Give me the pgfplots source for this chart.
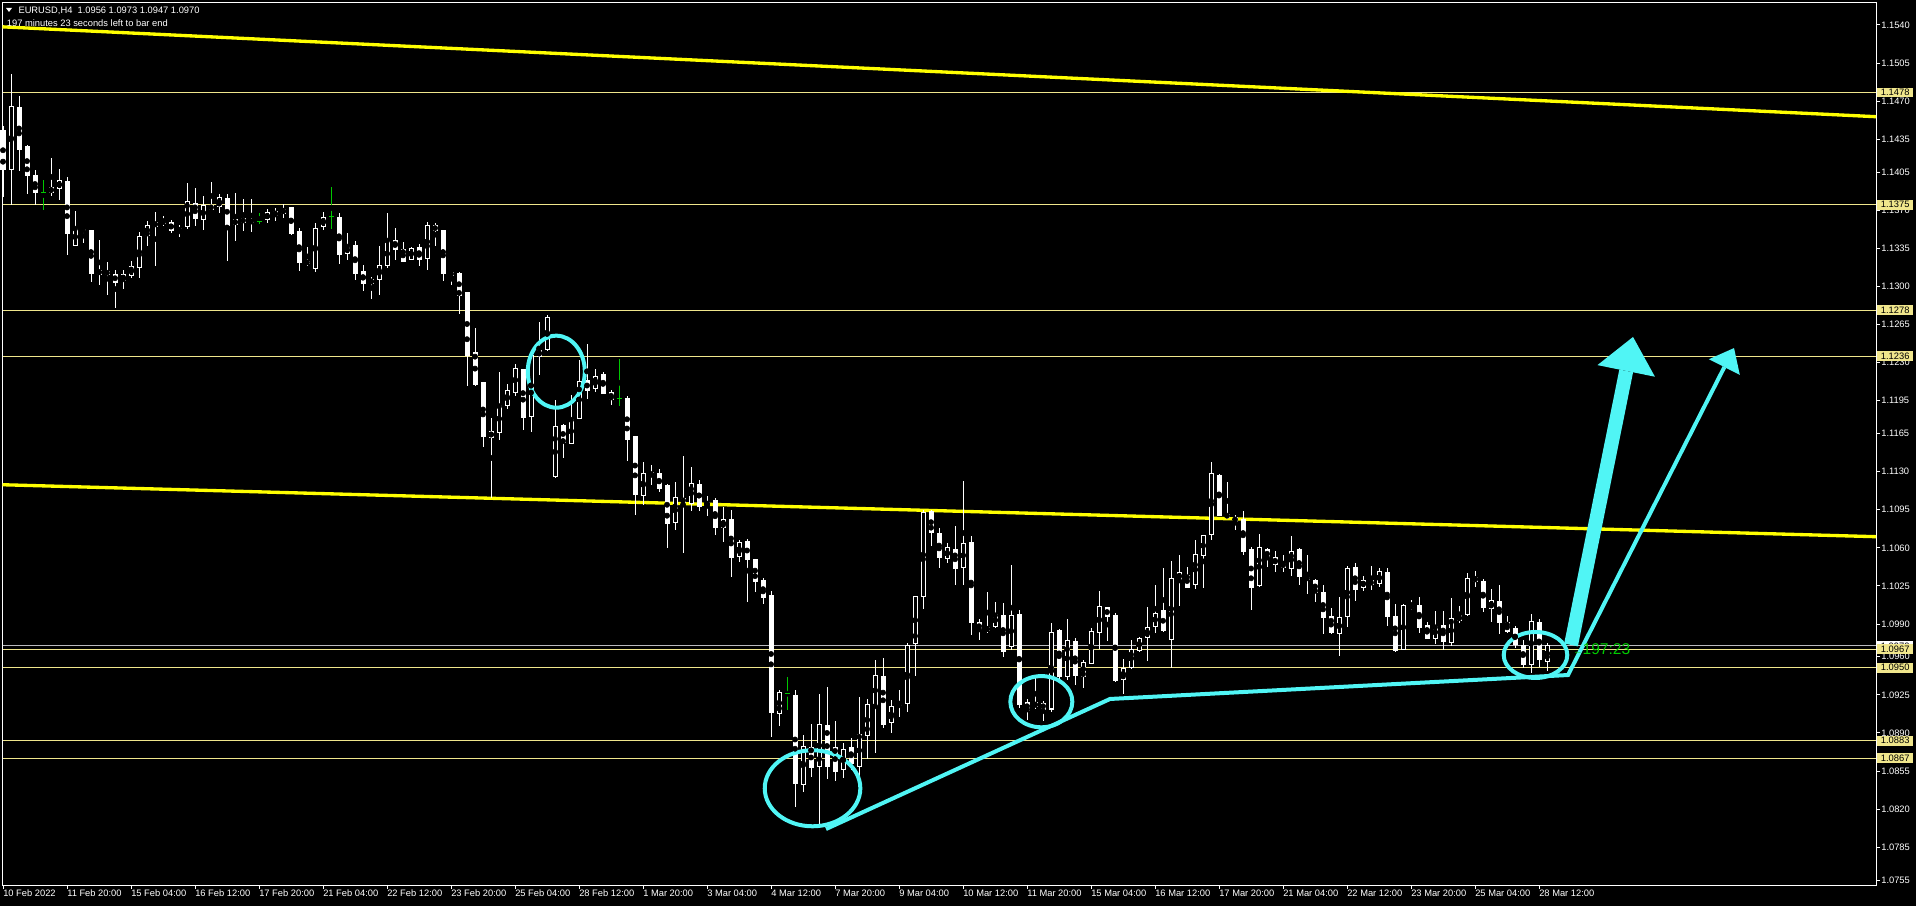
\documentclass[border=0pt]{standalone}
\usepackage{pgfplots}
\pgfplotsset{compat=1.18}
\usepackage{pgfplotstable}
\usepackage{fontspec}
\setmainfont{Liberation Sans}
\usetikzlibrary{arrows.meta}

\definecolor{hline}{RGB}{240,230,140}
\definecolor{tline}{RGB}{255,255,0}
\definecolor{aqua}{RGB}{80,245,245}
\definecolor{doji}{RGB}{0,200,0}
\definecolor{bidgrey}{RGB}{185,185,190}
\definecolor{timer}{RGB}{0,205,0}

% EURUSD H4, bar number counted from the left edge of the chart
\pgfplotstableread{
i o h l c
0 1.1443 1.1447 1.1382 1.1407
1 1.1407 1.1495 1.1375 1.1465
2 1.1464 1.1475 1.1406 1.1426
3 1.1428 1.1430 1.1385 1.1402
4 1.1402 1.1407 1.1375 1.1386
6 1.1386 1.1418 1.1383 1.1391
7 1.1390 1.1408 1.1379 1.1397
8 1.1396 1.1400 1.1329 1.1349
9 1.1338 1.1369 1.1337 1.1353
10 1.1352 1.1353 1.1340 1.1351
11 1.1351 1.1352 1.1304 1.1312
12 1.1311 1.1343 1.1301 1.1315
13 1.1314 1.1322 1.1292 1.1311
14 1.1311 1.1315 1.1280 1.1304
15 1.1305 1.1315 1.1298 1.1311
16 1.1310 1.1323 1.1308 1.1318
17 1.1317 1.1350 1.1308 1.1346
18 1.1347 1.1360 1.1337 1.1356
19 1.1355 1.1368 1.1319 1.1359
20 1.1360 1.1365 1.1355 1.1358
21 1.1359 1.1361 1.1349 1.1351
22 1.1351 1.1356 1.1345 1.1353
23 1.1355 1.1395 1.1353 1.1378
24 1.1376 1.1390 1.1355 1.1362
25 1.1361 1.1383 1.1352 1.1374
26 1.1374 1.1396 1.1370 1.1371
27 1.1373 1.1385 1.1367 1.1382
28 1.1381 1.1385 1.1323 1.1356
29 1.1357 1.1386 1.1342 1.1361
30 1.1362 1.1380 1.1351 1.1359
31 1.1360 1.1380 1.1350 1.1359
33 1.1361 1.1371 1.1358 1.1368
34 1.1369 1.1372 1.1360 1.1365
35 1.1367 1.1376 1.1363 1.1371
36 1.1372 1.1373 1.1347 1.1349
37 1.1350 1.1354 1.1314 1.1322
38 1.1323 1.1336 1.1319 1.1321
39 1.1316 1.1358 1.1313 1.1353
40 1.1355 1.1368 1.1352 1.1363
42 1.1363 1.1367 1.1321 1.1329
43 1.1330 1.1349 1.1324 1.1337
44 1.1338 1.1342 1.1306 1.1312
45 1.1314 1.1320 1.1296 1.1303
46 1.1303 1.1309 1.1288 1.1306
47 1.1306 1.1337 1.1292 1.1319
48 1.1319 1.1367 1.1317 1.1341
49 1.1342 1.1354 1.1324 1.1334
50 1.1334 1.1341 1.1322 1.1323
51 1.1325 1.1336 1.1324 1.1335
52 1.1336 1.1339 1.1319 1.1325
53 1.1326 1.1359 1.1315 1.1356
54 1.1356 1.1358 1.1337 1.1351
55 1.1351 1.1352 1.1305 1.1312
56 1.1313 1.1313 1.1301 1.1310
57 1.1312 1.1313 1.1275 1.1292
58 1.1294 1.1294 1.1209 1.1237
59 1.1239 1.1262 1.1209 1.1210
60 1.1212 1.1212 1.1153 1.1162
61 1.1161 1.1179 1.1106 1.1167
62 1.1166 1.1221 1.1159 1.1191
63 1.1191 1.1210 1.1187 1.1204
64 1.1203 1.1229 1.1199 1.1225
65 1.1224 1.1224 1.1168 1.1180
66 1.1181 1.1239 1.1166 1.1237
67 1.1236 1.1267 1.1219 1.1241
68 1.1242 1.1274 1.1241 1.1271
69 1.1125 1.1196 1.1124 1.1171
70 1.1172 1.1174 1.1142 1.1157
71 1.1156 1.1200 1.1155 1.1178
72 1.1179 1.1232 1.1179 1.1213
73 1.1214 1.1247 1.1197 1.1204
74 1.1206 1.1224 1.1203 1.1217
75 1.1219 1.1221 1.1202 1.1202
76 1.1203 1.1205 1.1191 1.1196
78 1.1197 1.1199 1.1140 1.1159
79 1.1162 1.1163 1.1090 1.1109
80 1.1108 1.1139 1.1099 1.1128
81 1.1126 1.1136 1.1118 1.1129
82 1.1128 1.1132 1.1111 1.1114
83 1.1117 1.1119 1.1060 1.1082
84 1.1083 1.1120 1.1076 1.1106
85 1.1105 1.1144 1.1055 1.1102
86 1.1101 1.1134 1.1094 1.1119
87 1.1118 1.1122 1.1094 1.1098
88 1.1099 1.1108 1.1089 1.1102
89 1.1103 1.1106 1.1072 1.1079
90 1.1079 1.1097 1.1065 1.1086
91 1.1086 1.1095 1.1033 1.1051
92 1.1052 1.1067 1.1047 1.1065
93 1.1066 1.1068 1.1010 1.1049
94 1.1049 1.1049 1.1019 1.1029
95 1.1030 1.1032 1.1008 1.1014
96 1.1016 1.1020 1.0886 1.0909
97 1.0908 1.0929 1.0896 1.0927
99 1.0924 1.0929 1.0822 1.0844
100 1.0843 1.0888 1.0836 1.0878
101 1.0877 1.0898 1.0850 1.0858
102 1.0859 1.0926 1.0806 1.0898
103 1.0897 1.0932 1.0848 1.0859
104 1.0877 1.0901 1.0846 1.0855
105 1.0856 1.0881 1.0849 1.0875
106 1.0877 1.0885 1.0856 1.0862
107 1.0859 1.0923 1.0850 1.0889
108 1.0888 1.0921 1.0866 1.0916
109 1.0915 1.0957 1.0872 1.0943
110 1.0942 1.0959 1.0895 1.0898
111 1.0900 1.0920 1.0890 1.0914
112 1.0916 1.0929 1.0905 1.0915
113 1.0917 1.0973 1.0909 1.0970
114 1.0972 1.1016 1.0942 1.1015
115 1.1015 1.1095 1.1004 1.1092
116 1.1093 1.1095 1.1062 1.1074
117 1.1073 1.1078 1.1041 1.1051
118 1.1050 1.1064 1.1046 1.1060
119 1.1058 1.1080 1.1026 1.1041
120 1.1042 1.1121 1.1026 1.1064
121 1.1065 1.1071 1.0980 1.0991
122 1.0991 1.0995 1.0975 1.0985
123 1.0984 1.1019 1.0982 1.0987
124 1.0988 1.1010 1.0986 1.0999
125 1.0998 1.1009 1.0960 1.0965
126 1.0969 1.1044 1.0966 1.0998
127 1.0999 1.1003 1.0913 1.0916
128 1.0918 1.0921 1.0902 1.0911
129 1.0914 1.0940 1.0912 1.0918
130 1.0917 1.0919 1.0901 1.0912
131 1.0912 1.0991 1.0909 1.0982
132 1.0984 1.0985 1.0936 1.0942
133 1.0942 1.0995 1.0939 1.0975
134 1.0974 1.0977 1.0934 1.0943
135 1.0942 1.0957 1.0931 1.0955
136 1.0954 1.0986 1.0953 1.0983
137 1.0982 1.1020 1.0967 1.1006
138 1.1005 1.1005 1.0974 1.0997
139 1.0998 1.1000 1.0937 1.0938
140 1.0939 1.0958 1.0926 1.0949
141 1.0950 1.0975 1.0949 1.0967
142 1.0966 1.0978 1.0964 1.0977
143 1.0978 1.1006 1.0956 1.0987
144 1.0988 1.1026 1.0982 1.1000
145 1.1002 1.1041 1.0983 1.0984
146 1.0976 1.1048 1.0950 1.1032
147 1.1031 1.1053 1.1007 1.1037
148 1.1035 1.1042 1.1024 1.1024
149 1.1026 1.1067 1.1022 1.1054
150 1.1053 1.1072 1.1023 1.1071
151 1.1072 1.1139 1.1067 1.1128
152 1.1126 1.1128 1.1090 1.1090
153 1.1091 1.1120 1.1086 1.1088
154 1.1088 1.1090 1.1076 1.1084
155 1.1086 1.1094 1.1053 1.1057
156 1.1058 1.1061 1.1003 1.1024
157 1.1025 1.1073 1.1024 1.1060
158 1.1058 1.1060 1.1042 1.1051
159 1.1051 1.1057 1.1038 1.1045
160 1.1046 1.1053 1.1038 1.1042
161 1.1041 1.1071 1.1034 1.1057
162 1.1058 1.1060 1.1026 1.1034
163 1.1033 1.1053 1.1018 1.1031
164 1.1030 1.1031 1.1010 1.1019
165 1.1019 1.1026 1.0981 1.0996
166 1.0997 1.1005 1.0981 1.0982
167 1.0981 1.1015 1.0961 1.0996
168 1.0997 1.1043 1.0987 1.1041
169 1.1042 1.1046 1.1011 1.1022
170 1.1024 1.1034 1.1020 1.1030
171 1.1030 1.1043 1.1021 1.1026
172 1.1027 1.1041 1.1024 1.1038
173 1.1037 1.1041 1.0988 1.0997
174 1.0997 1.1008 1.0964 1.0966
175 1.0967 1.1008 1.0966 1.1007
176 1.1005 1.1012 1.1003 1.1007
177 1.1007 1.1015 1.0982 1.0987
178 1.0989 1.0992 1.0977 1.0977
179 1.0977 1.1002 1.0972 1.0988
180 1.0989 1.1002 1.0966 1.0974
181 1.0973 1.1014 1.0970 1.0995
182 1.0993 1.1007 1.0991 1.0998
183 1.0999 1.1037 1.0997 1.1032
184 1.1033 1.1039 1.1024 1.1029
185 1.1029 1.1031 1.1001 1.1005
186 1.1004 1.1022 1.0992 1.1012
187 1.1011 1.1026 1.0981 1.0991
188 1.0991 1.0997 1.0982 1.0983
189 1.0986 1.0988 1.0968 1.0971
190 1.0970 1.0975 1.0950 1.0953
191 1.0953 1.0999 1.0945 1.0992
192 1.0991 1.0995 1.0951 1.0957
193 1.0956 1.0973 1.0947 1.0970
}\candles

% bars with open = close, drawn green by the terminal
\pgfplotstableread{
i p h l
5 1.1386 1.1398 1.1370
32 1.1360 1.1367 1.1357
41 1.1364 1.1391 1.1353
77 1.1197 1.1233 1.1190
98 1.0926 1.0941 1.0911
}\dojis

\begin{document}
\begin{tikzpicture}
\fill[black] (0,0) rectangle (1437pt,679.5pt);
\useasboundingbox (0,0) rectangle (1437pt,679.5pt);
\begin{axis}[
  at={(1.875pt,15.75pt)}, anchor=south west,
  scale only axis, width=1405.125pt, height=662.025pt,
  xmin=-0.0625, xmax=234.125, ymin=1.075041, ymax=1.156084,
  clip=false,
  axis line style={white, line width=0.75pt},
  tick style={white, line width=0.75pt},
  major tick length=3pt, tick align=outside,
  xtick pos=bottom, ytick pos=right, yticklabel pos=right,
  xtick={0,8,...,192},
  xticklabels={10 Feb 2022, 11 Feb 20:00, 15 Feb 04:00, 16 Feb 12:00, 17 Feb 20:00,
    21 Feb 04:00, 22 Feb 12:00, 23 Feb 20:00, 25 Feb 04:00, 28 Feb 12:00, 1 Mar 20:00,
    3 Mar 04:00, 4 Mar 12:00, 7 Mar 20:00, 9 Mar 04:00, 10 Mar 12:00, 11 Mar 20:00,
    15 Mar 04:00, 16 Mar 12:00, 17 Mar 20:00, 21 Mar 04:00, 22 Mar 12:00, 23 Mar 20:00,
    25 Mar 04:00, 28 Mar 12:00},
  ytick={1.0755,1.0785,1.0820,1.0855,1.0890,1.0925,1.0960,1.0990,1.1025,1.1060,1.1095,1.1130,
    1.1165,1.1195,1.1230,1.1265,1.1300,1.1335,1.1370,1.1405,1.1435,1.1470,1.1505,1.1540},
  yticklabels={1.0755,1.0785,1.0820,1.0855,1.0890,1.0925,1.0960,1.0990,1.1025,1.1060,1.1095,1.1130,
    1.1165,1.1195,1.1230,1.1265,1.1300,1.1335,1.1370,1.1405,1.1435,1.1470,1.1505,1.1540},
  tick label style={font=\fontsize{7}{8}\selectfont, text=white, inner sep=0pt},
  xticklabel style={anchor=north west, yshift=-0.4pt},
  yticklabel style={anchor=west, xshift=0.75pt},
]
% price levels
\addplot[hline, line width=0.75pt] coordinates {(-0.0625,1.1478) (234.125,1.1478)} node[coordinate, pos=1] (h1478) {};
\addplot[hline, line width=0.75pt] coordinates {(-0.0625,1.1375) (234.125,1.1375)} node[coordinate, pos=1] (h1375) {};
\addplot[hline, line width=0.75pt] coordinates {(-0.0625,1.1278) (234.125,1.1278)} node[coordinate, pos=1] (h1278) {};
\addplot[hline, line width=0.75pt] coordinates {(-0.0625,1.1236) (234.125,1.1236)} node[coordinate, pos=1] (h1236) {};
\addplot[bidgrey, line width=0.75pt] coordinates {(-0.0625,1.0970) (234.125,1.0970)} node[coordinate, pos=1] (h0970) {};
\addplot[hline, line width=0.75pt] coordinates {(-0.0625,1.0967) (234.125,1.0967)} node[coordinate, pos=1] (h0967) {};
\addplot[hline, line width=0.75pt] coordinates {(-0.0625,1.0950) (234.125,1.0950)} node[coordinate, pos=1] (h0950) {};
\addplot[hline, line width=0.75pt] coordinates {(-0.0625,1.0883) (234.125,1.0883)} node[coordinate, pos=1] (h0883) {};
\addplot[hline, line width=0.75pt] coordinates {(-0.0625,1.0867) (234.125,1.0867)} node[coordinate, pos=1] (h0867) {};
% channel lines
\addplot[tline, line width=2.5pt] coordinates {(-0.0625,1.15383) (234.125,1.14558)};
\addplot[tline, line width=2.5pt] coordinates {(-0.0625,1.11179) (234.125,1.10702)};

% wicks
\addplot[only marks, mark=none, error bars/.cd, y dir=both, y explicit, error mark=none,
  error bar style={white, line width=0.75pt}]
  table[x=i, y expr={0.5*(\thisrow{h}+\thisrow{l})}, y error expr={0.5*(\thisrow{h}-\thisrow{l})}] {\candles};
% bodies, white
\addplot[only marks, mark=none, error bars/.cd, y dir=both, y explicit, error mark=none,
  error bar style={white, line width=3.75pt}]
  table[x=i, y expr={0.5*(\thisrow{o}+\thisrow{c})}, y error expr={0.5*abs(\thisrow{o}-\thisrow{c})+0.000046}] {\candles};
% rising bars are hollow: black inside the white outline
\addplot[only marks, mark=none, x filter/.expression={\thisrow{c}>\thisrow{o} ? x : nan},
  error bars/.cd, y dir=both, y explicit, error mark=none,
  error bar style={black, line width=2.25pt}]
  table[x=i, y expr={0.5*(\thisrow{o}+\thisrow{c})}, y error expr={max(0.5*(\thisrow{c}-\thisrow{o})-0.000046,0)}] {\candles};
% dojis
\addplot[only marks, mark=none, error bars/.cd, y dir=both, y explicit, error mark=none,
  error bar style={doji, line width=0.75pt}]
  table[x=i, y expr={0.5*(\thisrow{h}+\thisrow{l})}, y error expr={0.5*(\thisrow{h}-\thisrow{l})}] {\dojis};
\addplot[only marks, mark=-, mark size=1.875pt, mark options={doji, line width=0.75pt}]
  table[x=i, y=p] {\dojis};

% drawn objects
\draw[aqua, line width=3pt] (axis cs:69.16,1.12217) ellipse [x radius=21.4pt, y radius=27pt];
\draw[aqua, line width=3pt] (axis cs:101.19,1.08392) ellipse [x radius=35.85pt, y radius=28.5pt];
\draw[aqua, line width=3pt] (axis cs:129.79,1.09187) ellipse [x radius=23.25pt, y radius=19.2pt];
\draw[aqua, line width=3pt] (axis cs:191.56,1.09616) ellipse [x radius=23.85pt, y radius=17.25pt];
\addplot[aqua, line width=3pt, -{Triangle[length=16pt, width=26pt, line width=0pt]}]
  coordinates {(102.875,1.08018) (138.375,1.09212) (195.625,1.09432) (216.375,1.12434)};
\addplot[aqua, line width=10.5pt, -{Triangle[length=26pt, width=44pt, line width=0pt]}]
  coordinates {(196.0,1.09708) (203.75,1.12536)};
\end{axis}

% price labels on the scale
\begin{scope}[every node/.style={anchor=west, inner xsep=2.7pt, inner ysep=1.25pt,
    font=\fontsize{7}{8}\selectfont, xshift=0.75pt, text=black}]
\node[fill=hline] at (h1478) {1.1478};
\node[fill=hline] at (h1375) {1.1375};
\node[fill=hline] at (h1278) {1.1278};
\node[fill=hline] at (h1236) {1.1236};
\node[fill=white] at (h0970) {1.0970};
\node[fill=hline] at (h0967) {1.0967};
\node[fill=hline] at (h0950) {1.0950};
\node[fill=hline] at (h0883) {1.0883};
\node[fill=hline] at (h0867) {1.0867};
\end{scope}

% header
\fill[white] (4.5pt,673.5pt) -- (9pt,673.5pt) -- (6.75pt,670.5pt) -- cycle;
\node[anchor=base west, inner sep=0pt, text=white, font=\fontsize{7}{8}\selectfont]
  at (13.7pt,669.5pt) {EURUSD,H4\hspace{0.55em}1.0956 1.0973 1.0947 1.0970};
\node[anchor=base west, inner sep=0pt, text=white, font=\fontsize{7}{8}\selectfont]
  at (5pt,659.5pt) {197 minutes 23 seconds left to bar end};
% bar timer
\node[anchor=west, inner sep=0pt, text=timer, font=\fontsize{11.7}{12}\selectfont]
  at (1179.75pt,192.75pt) {{\fontsize{7}{7}\selectfont ←}197:23};
\end{tikzpicture}
\end{document}
